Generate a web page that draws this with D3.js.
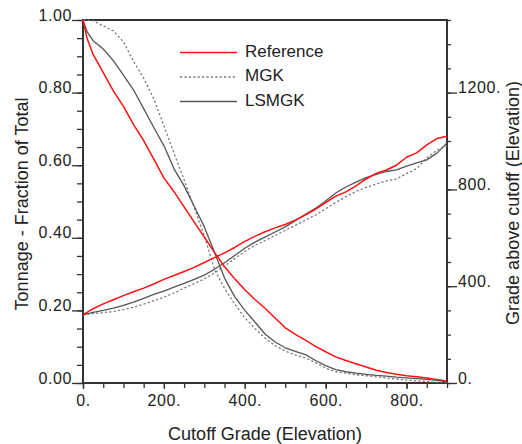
<!DOCTYPE html>
<html>
<head>
<meta charset="utf-8">
<script src="https://cdn.jsdelivr.net/npm/d3@7"></script>
<style>
  html, body { margin: 0; padding: 0; background: #fff; }
  svg text { font-family: "Liberation Sans", Arial, Helvetica, sans-serif; fill: #222; }
</style>
</head>
<body>
<svg id="chart" width="522" height="444"></svg>
<script>
// Cutoff grades (elevation) at which the curves are sampled
const cutoffs = [0, 10, 25, 50, 75, 100, 125, 150, 175, 200, 225, 250, 275, 300, 325, 350, 375, 400,
  425, 450, 475, 500, 525, 550, 575, 600, 625, 650, 675, 700, 725, 750, 775, 800, 825, 850, 875, 900];

// Tonnage above cutoff, fraction of total (left axis)
const tonnageReference = [1.0, 0.95, 0.905, 0.855, 0.805, 0.762, 0.712, 0.668, 0.617, 0.565, 0.527, 0.485,
  0.443, 0.402, 0.36, 0.32, 0.287, 0.257, 0.23, 0.206, 0.179, 0.152, 0.134, 0.118, 0.101, 0.086,
  0.072, 0.062, 0.053, 0.044, 0.035, 0.029, 0.024, 0.02, 0.017, 0.014, 0.01, 0.005];
const tonnageMGK = [1.0, 1.0, 0.998, 0.984, 0.97, 0.94, 0.886, 0.84, 0.783, 0.709, 0.633, 0.56,
  0.483, 0.405, 0.313, 0.26, 0.218, 0.18, 0.15, 0.124, 0.103, 0.088, 0.077, 0.069, 0.056, 0.041,
  0.031, 0.027, 0.023, 0.02, 0.017, 0.014, 0.011, 0.008, 0.006, 0.004, 0.002, 0.001];
const tonnageLSMGK = [1.0, 0.968, 0.943, 0.92, 0.888, 0.848, 0.807, 0.756, 0.704, 0.654, 0.59, 0.543,
  0.487, 0.43, 0.36, 0.289, 0.238, 0.2, 0.168, 0.135, 0.113, 0.097, 0.087, 0.078, 0.062, 0.048,
  0.037, 0.031, 0.027, 0.024, 0.021, 0.019, 0.016, 0.014, 0.012, 0.01, 0.007, 0.003];

// Mean grade above cutoff, elevation (right axis)
const gradeReference = [282, 292, 307, 327, 344, 361, 377, 392, 409, 428, 444, 461, 478, 498, 518, 538,
  560, 585, 606, 625, 641, 655, 673, 695, 718, 745, 772, 790, 815, 843, 866, 880, 900, 933, 951, 984, 1010, 1020];
const gradeMGK = [282, 284, 287, 291, 295, 303, 313, 326, 340, 354, 372, 392, 411, 430, 455, 484,
  514, 544, 569, 589, 610, 631, 652, 673, 694, 720, 746, 770, 792, 808, 822, 835, 843, 865, 886, 930, 962, 980];
const gradeLSMGK = [282, 286, 292, 300, 309, 321, 334, 350, 366, 380, 396, 412, 428, 446, 470, 497,
  527, 557, 582, 603, 624, 645, 671, 697, 722, 752, 785, 810, 830, 849, 862, 874, 881, 896, 910, 922, 950, 992];

const seriesNames = ["Reference", "MGK", "LSMGK"];
const xTicks = [0, 200, 400, 600, 800];
const yLeftTicks = [0, 0.2, 0.4, 0.6, 0.8, 1.0];
const yRightTicks = [0, 400, 800, 1200];

const styles = {
  Reference: { stroke: "#ff1010", width: 1.5, dash: null },
  MGK: { stroke: "#7a7a7a", width: 1.3, dash: "2.2,2.2" },
  LSMGK: { stroke: "#555555", width: 1.3, dash: null }
};

const svg = d3.select("#chart");
const plotLeft = 83, plotRight = 447, plotTop = 20, plotBottom = 383;

const x = d3.scaleLinear().domain([0, 900]).range([plotLeft, plotRight]);
const yL = d3.scaleLinear().domain([0, 1]).range([plotBottom, plotTop]);
const yR = d3.scaleLinear().domain([0, 1500]).range([plotBottom, plotTop]);

const axisColor = "#333";

// Minor ticks
const minorX = d3.range(0, 901, 50);
const minorL = d3.range(0, 1.0001, 0.05);
const minorR = d3.range(0, 1501, 100);

function styleAxis(g) {
  g.select(".domain").remove();
  g.selectAll("line").attr("stroke", axisColor).attr("stroke-width", 1.3);
  g.selectAll("text").attr("fill", "#222").style("font-size", "16px").style("letter-spacing", "0.6px");
}

svg.append("g").attr("transform", `translate(0,${plotBottom})`)
  .call(d3.axisBottom(x).tickValues(minorX).tickSize(5).tickFormat(""))
  .call(styleAxis);
svg.append("g").attr("transform", `translate(0,${plotBottom})`)
  .call(d3.axisBottom(x).tickValues(xTicks).tickSize(6).tickPadding(6).tickFormat(d => d + "."))
  .call(styleAxis);

svg.append("g").attr("transform", `translate(${plotLeft},0)`)
  .call(d3.axisLeft(yL).tickValues(minorL).tickSize(6).tickFormat(""))
  .call(styleAxis);
svg.append("g").attr("transform", `translate(${plotLeft},0)`)
  .call(d3.axisLeft(yL).tickValues(yLeftTicks).tickSize(11).tickPadding(0).tickFormat(d3.format(".2f")))
  .call(styleAxis)
  .call(g => g.selectAll("text").attr("dy", "0"));

svg.append("g").attr("transform", `translate(${plotRight},0)`)
  .call(d3.axisRight(yR).tickValues(minorR).tickSize(4).tickFormat(""))
  .call(styleAxis);
svg.append("g").attr("transform", `translate(${plotRight},0)`)
  .call(d3.axisRight(yR).tickValues(yRightTicks).tickSize(10).tickPadding(1).tickFormat(d => d + "."))
  .call(styleAxis)
  .call(g => g.selectAll("text").attr("dy", "0"));

// Plot frame
svg.append("rect")
  .attr("x", plotLeft).attr("y", plotTop)
  .attr("width", plotRight - plotLeft).attr("height", plotBottom - plotTop)
  .attr("fill", "none").attr("stroke", axisColor).attr("stroke-width", 2);

// Curves
const plot = svg.append("g");
function drawCurve(values, yScale, name) {
  const st = styles[name];
  const line = d3.line().x((d, i) => x(cutoffs[i])).y(d => yScale(d));
  plot.append("path")
    .datum(values)
    .attr("d", line)
    .attr("fill", "none")
    .attr("stroke", st.stroke)
    .attr("stroke-width", st.width)
    .attr("stroke-dasharray", st.dash)
    .attr("stroke-linejoin", "round");
}
drawCurve(tonnageMGK, yL, "MGK");
drawCurve(gradeMGK, yR, "MGK");
drawCurve(tonnageLSMGK, yL, "LSMGK");
drawCurve(gradeLSMGK, yR, "LSMGK");
drawCurve(tonnageReference, yL, "Reference");
drawCurve(gradeReference, yR, "Reference");

// Legend
const legend = svg.append("g").attr("transform", "translate(180,56.5)");
seriesNames.forEach((name, i) => {
  const st = styles[name];
  const row = legend.append("g").attr("transform", `translate(0,${i * 24.5})`);
  row.append("line")
    .attr("x1", 0).attr("x2", 57).attr("y1", -4).attr("y2", -4)
    .attr("stroke", st.stroke).attr("stroke-width", st.width + 0.2)
    .attr("stroke-dasharray", st.dash);
  row.append("text").attr("x", 65).attr("y", 0)
    .style("font-size", "17px").text(name);
});

// Axis titles
svg.append("text")
  .attr("x", (plotLeft + plotRight) / 2).attr("y", 440)
  .attr("text-anchor", "middle").style("font-size", "18px")
  .text("Cutoff Grade (Elevation)");
svg.append("text")
  .attr("transform", "translate(28,204) rotate(-90)")
  .attr("text-anchor", "middle").style("font-size", "18px")
  .text("Tonnage - Fraction of Total");
svg.append("text")
  .attr("transform", "translate(519,203) rotate(-90)")
  .attr("text-anchor", "middle").style("font-size", "18px")
  .text("Grade above cutoff (Elevation)");
</script>
</body>
</html>
